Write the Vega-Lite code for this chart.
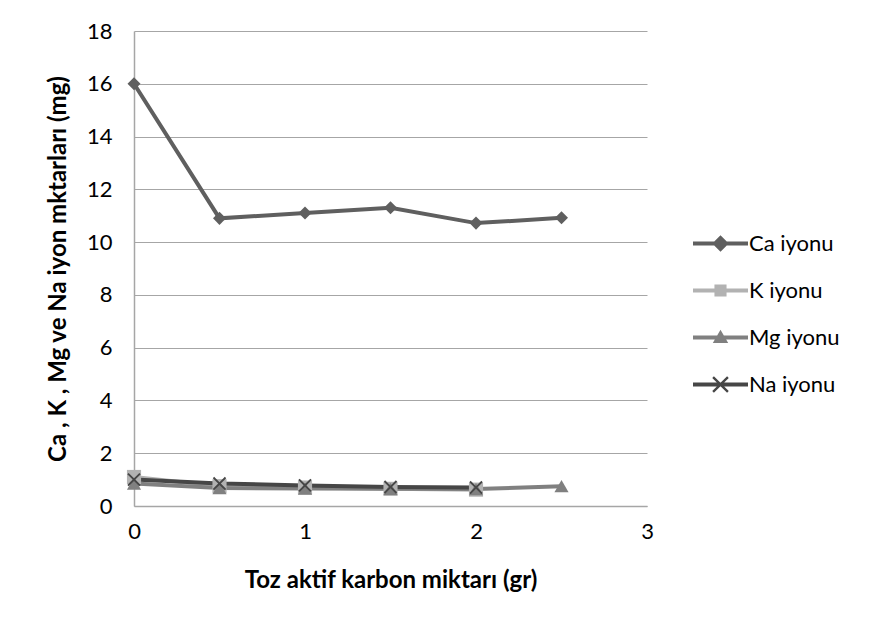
{
  "$schema": "https://vega.github.io/schema/vega-lite/v6.json",
  "width": 513,
  "height": 475,
  "autosize": {"type": "none"},
  "padding": {"left": 134, "top": 31, "right": 224, "bottom": 126},
  "background": "white",
  "config": {
    "view": {"stroke": null},
    "font": "Lato",
    "axis": {"labelFont": "Lato", "titleFont": "Lato", "labelColor": "#000", "titleColor": "#000", "labelFontSize": 22, "titleFontSize": 24, "titleFontWeight": "bold"}
  },
  "data": {"values": [
    {"x": 0, "y": 16.0, "s": "Ca iyonu"},
    {"x": 0.5, "y": 10.9, "s": "Ca iyonu"},
    {"x": 1, "y": 11.1, "s": "Ca iyonu"},
    {"x": 1.5, "y": 11.3, "s": "Ca iyonu"},
    {"x": 2, "y": 10.72, "s": "Ca iyonu"},
    {"x": 2.5, "y": 10.92, "s": "Ca iyonu"},
    {"x": 0, "y": 1.1, "s": "K iyonu"},
    {"x": 0.5, "y": 0.75, "s": "K iyonu"},
    {"x": 1, "y": 0.7, "s": "K iyonu"},
    {"x": 1.5, "y": 0.65, "s": "K iyonu"},
    {"x": 2, "y": 0.62, "s": "K iyonu"},
    {"x": 0, "y": 0.85, "s": "Mg iyonu"},
    {"x": 0.5, "y": 0.68, "s": "Mg iyonu"},
    {"x": 1, "y": 0.66, "s": "Mg iyonu"},
    {"x": 1.5, "y": 0.65, "s": "Mg iyonu"},
    {"x": 2, "y": 0.64, "s": "Mg iyonu"},
    {"x": 2.5, "y": 0.75, "s": "Mg iyonu"},
    {"x": 0, "y": 1.0, "s": "Na iyonu"},
    {"x": 0.5, "y": 0.85, "s": "Na iyonu"},
    {"x": 1, "y": 0.78, "s": "Na iyonu"},
    {"x": 1.5, "y": 0.72, "s": "Na iyonu"},
    {"x": 2, "y": 0.7, "s": "Na iyonu"}
  ]},
  "encoding": {
    "x": {"field": "x", "type": "quantitative", "scale": {"domain": [0, 3], "nice": false, "zero": false},
      "axis": {"values": [0, 1, 2, 3], "title": "Toz aktif karbon miktarı (gr)", "grid": false, "ticks": false, "labelFlush": false, "domainColor": "#a6a6a6", "domainWidth": 1.5, "labelPadding": 15, "titlePadding": 26}},
    "y": {"field": "y", "type": "quantitative", "scale": {"domain": [0, 18], "nice": false},
      "axis": {"values": [0, 2, 4, 6, 8, 10, 12, 14, 16, 18], "title": "Ca , K , Mg  ve Na iyon mktarları (mg)", "gridColor": "#a6a6a6", "gridWidth": 1, "ticks": false, "labelFlush": false, "domainColor": "#a6a6a6", "domainWidth": 1.5, "labelPadding": 22, "titlePadding": 16}},
    "color": {"field": "s", "type": "nominal",
      "scale": {"domain": ["Ca iyonu", "K iyonu", "Mg iyonu", "Na iyonu"], "range": ["#5f5f5f", "#b2b2b2", "#808080", "#464646"]},
      "legend": {"orient": "none", "legendX": 559, "legendY": 185, "title": null, "labelFontSize": 22, "labelFont": "Lato", "labelColor": "#000", "rowPadding": 8, "symbolSize": 3025, "labelOffset": 1,
        "symbolType": "M-1,-0.07H1V0.07H-1Z",
        "encode": {"symbols": {"update": {
          "shape": {"signal": "datum.value === 'Ca iyonu' ? 'M-1,-0.07H1V0.07H-1Z M0,-0.3L0.3,0L0,0.3L-0.3,0Z' : datum.value === 'K iyonu' ? 'M-1,-0.07H1V0.07H-1Z M-0.22,-0.22H0.22V0.22H-0.22Z' : datum.value === 'Mg iyonu' ? 'M-1,-0.07H1V0.07H-1Z M0,-0.28L0.28,0.2L-0.28,0.2Z' : 'M-1,-0.07H1V0.07H-1Z M-0.3,-0.24L-0.24,-0.3L0,-0.06L0.24,-0.3L0.3,-0.24L0.06,0L0.3,0.24L0.24,0.3L0,0.06L-0.24,0.3L-0.3,0.24L-0.06,0Z'"},
          "fill": {"signal": "scale('color', datum.value)"},
          "fillOpacity": {"value": 1},
          "strokeWidth": {"value": 0},
          "size": {"value": 3025}
        }}}}}
  },
  "layer": [
    {"mark": {"type": "line", "strokeWidth": 4}, "encoding": {"detail": {"field": "s"}}},
    {"transform": [{"filter": "datum.s === 'Ca iyonu'"}], "mark": {"type": "point", "filled": true, "size": 170, "opacity": 1, "shape": "diamond"}},
    {"transform": [{"filter": "datum.s === 'K iyonu'"}], "mark": {"type": "point", "filled": true, "size": 200, "opacity": 1, "shape": "square"}},
    {"transform": [{"filter": "datum.s === 'Mg iyonu'"}], "mark": {"type": "point", "filled": true, "size": 200, "opacity": 1, "shape": "triangle-up"}},
    {"transform": [{"filter": "datum.s === 'Na iyonu'"}], "mark": {"type": "point", "filled": true, "size": 180, "opacity": 1, "shape": "M-1,-0.8L-0.8,-1L0,-0.2L0.8,-1L1,-0.8L0.2,0L1,0.8L0.8,1L0,0.2L-0.8,1L-1,0.8L-0.2,0Z"}}
  ]
}
